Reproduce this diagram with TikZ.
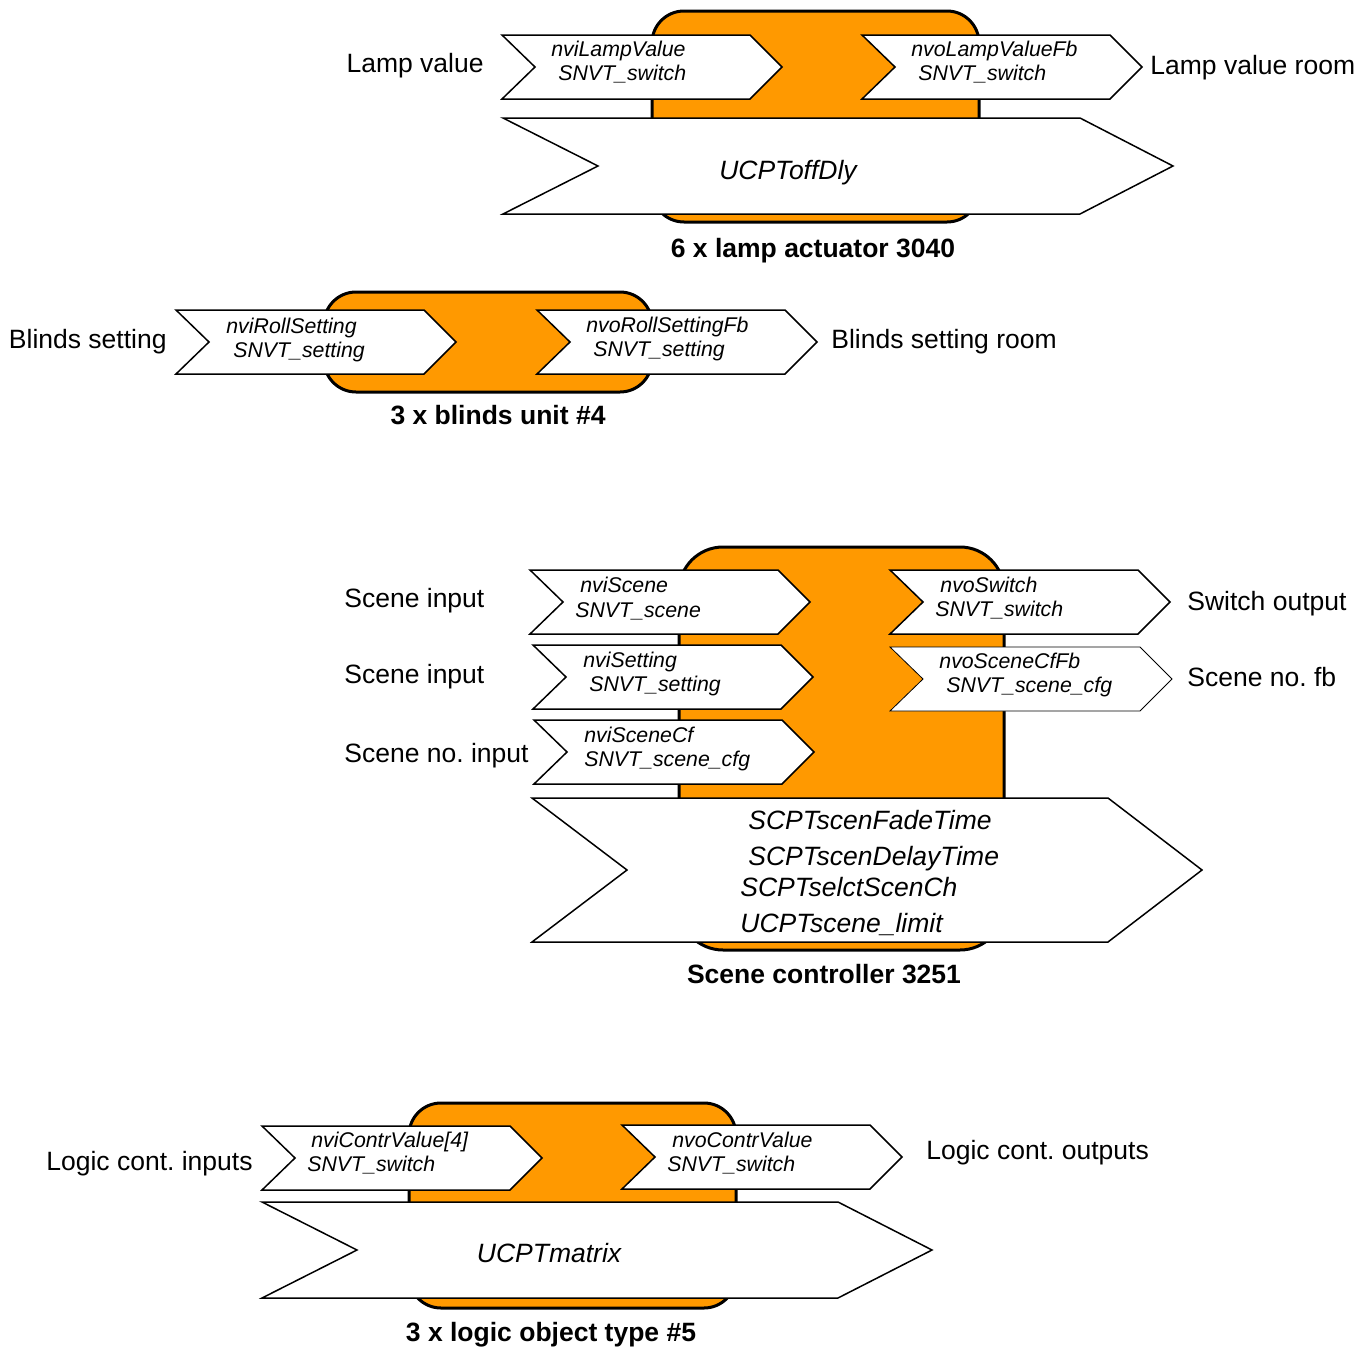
\documentclass[tikz,border=0pt]{standalone}
\usepackage{fontspec}
\setmainfont{Liberation Sans}
\frenchspacing
\definecolor{lonorange}{RGB}{255,153,0}
\begin{document}
\begin{tikzpicture}[x=0.5pt, y=-0.5pt, line join=miter,
	body/.style={fill=lonorange, draw=black, line width=1.5pt, rounded corners=16pt},
	nvbox/.style={fill=white, draw=black, line width=0.75pt},
	nvtext/.style={font=\fontsize{10.65}{12}\selectfont\itshape, inner sep=0pt, anchor=base west},
	cptext/.style={font=\fontsize{13.25}{15}\selectfont\itshape, inner sep=0pt},
	lbl/.style={font=\fontsize{13.25}{15}\selectfont, inner sep=0pt},
	devtitle/.style={font=\fontsize{13.25}{15}\selectfont\bfseries, inner sep=0pt, anchor=base}]
	\useasboundingbox (0,0) rectangle (1372,1349);
	
	% device bodies
	\draw[body] (652,11) rectangle (979,222);
	\draw[body] (324,292) rectangle (652,392);
	\draw[body, rounded corners=22pt] (679,547) rectangle (1004,950);
	\draw[body] (409,1103) rectangle (736,1308);
	
	% network variables (inputs and outputs)
	\foreach \x/\y in {502/35, 862/35, 176/310, 537/310, 530/570, 533/645, 534/720, 890/570, 262/1126, 622/1125} {
		\draw[nvbox] (\x,\y) -- ++(248,0) -- ++(32,32) -- ++(-32,32) -- ++(-248,0) -- ++(33,-32) -- cycle;
	}
	\draw[nvbox, line width=0.4pt] (890,647) -- ++(250,0) -- ++(32,32) -- ++(-32,32) -- ++(-250,0) -- ++(33,-32) -- cycle;
	
	% configuration properties
	\draw[nvbox] (503,118) -- (1080,118) -- (1173,166) -- (1080,214) -- (503,214) -- (598,166) -- cycle;
	\draw[nvbox] (532,798) -- (1108,798) -- (1202,870) -- (1108,942) -- (532,942) -- (627,870) -- cycle;
	\draw[nvbox] (262,1202) -- (838,1202) -- (932,1250) -- (838,1298) -- (262,1298) -- (357,1250) -- cycle;
	
	% variable names and types
	\foreach \x/\y/\t [count=\i] in {551/56/nviLampValue, 558/80/SNVT\_switch,
		911/56/nvoLampValueFb, 918/80/SNVT\_switch,
		226/333/nviRollSetting, 233/357/SNVT\_setting,
		586/332/nvoRollSettingFb, 593/356/SNVT\_setting,
		580/592/nviScene, 575/617/SNVT\_scene,
		583/667/nviSetting, 589/691/SNVT\_setting,
		584/742/nviSceneCf, 584/766/SNVT\_scene\_cfg,
		940/592/nvoSwitch, 935/616/SNVT\_switch,
		939/668/nvoSceneCfFb, 946/692/SNVT\_scene\_cfg,
		311/1147/{nviContrValue[4]}, 307/1171/SNVT\_switch,
		672/1147/nvoContrValue, 667/1171/SNVT\_switch} {
		\node[nvtext] (nv\i) at (\x,\y) {\t};
	}
	
	% property names
	\node[cptext, anchor=base] (offdly) at (788,179.5) {UCPToffDly};
	\node[cptext, anchor=base west] (fade) at (748,829.5) {SCPTscenFadeTime};
	\node[cptext, anchor=base west] (delay) at (748,865.5) {SCPTscenDelayTime};
	\node[cptext, anchor=base west] (selct) at (740,896.5) {SCPTselctScenCh};
	\node[cptext, anchor=base west] (limit) at (740,932.5) {UCPTscene\_limit};
	\node[cptext, anchor=base] (matrix) at (549,1262.5) {UCPTmatrix};
	
	% signal labels
	\node[lbl, anchor=base east] (lampin) at (484,72.5) {Lamp value};
	\node[lbl, anchor=base west] (lampout) at (1150,74.5) {Lamp value room};
	\node[lbl, anchor=base east] (blindin) at (167,348.5) {Blinds setting};
	\node[lbl, anchor=base west] (blindout) at (831,348.5) {Blinds setting room};
	\node[lbl, anchor=base west] (scenein) at (344,607.5) {Scene input};
	\node[lbl, anchor=base west] (settingin) at (344,683.5) {Scene input};
	\node[lbl, anchor=base west] (scenenoin) at (344,762.5) {Scene no. input};
	\node[lbl, anchor=base west] (switchout) at (1187,610.5) {Switch output};
	\node[lbl, anchor=base west] (scenenofb) at (1187,686.5) {Scene no. fb};
	\node[lbl, anchor=base east] (logicin) at (253,1170.5) {Logic cont. inputs};
	\node[lbl, anchor=base west] (logicout) at (926,1159.5) {Logic cont. outputs};
	
	% device titles
	\node[devtitle] (lamptitle) at (813,257.5) {6 x lamp actuator 3040};
	\node[devtitle] (blindtitle) at (498,424.5) {3 x blinds unit \#4};
	\node[devtitle] (scenetitle) at (824,983.5) {Scene controller 3251};
	\node[devtitle] (logictitle) at (551,1341.5) {3 x logic object type \#5};
\end{tikzpicture}
\end{document}
